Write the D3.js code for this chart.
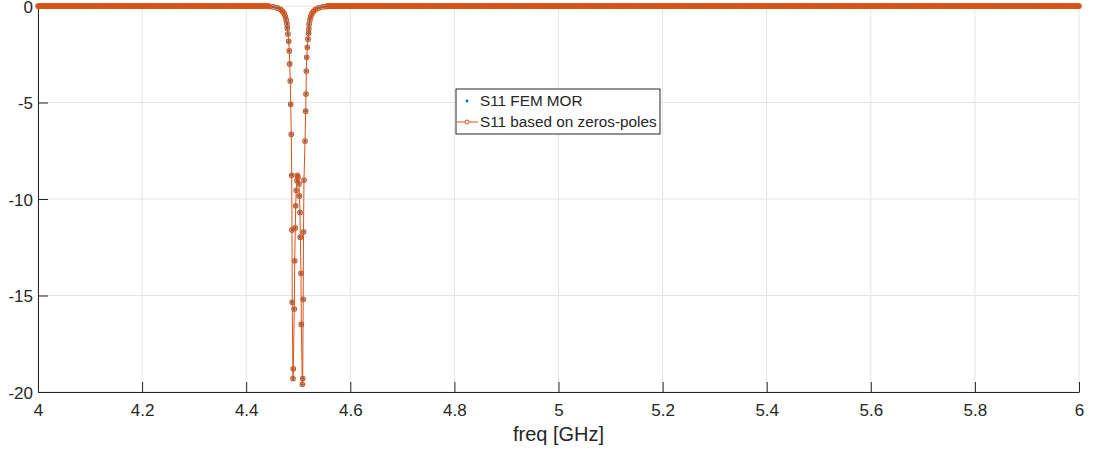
<!DOCTYPE html>
<html lang="en">
<head>
<meta charset="UTF-8">
<title>S11 FEM MOR vs zeros-poles</title>
<script src="https://d3js.org/d3.v7.min.js"></script>
<style>
  body { margin: 0; background: #fff; }
  text { font-family: "Liberation Sans", Arial, sans-serif; fill: #262626; }
</style>
</head>
<body>
<div id="chart"></div>
<script>
// axis ticks
const xTicks = [4, 4.2, 4.4, 4.6, 4.8, 5, 5.2, 5.4, 5.6, 5.8, 6];
const yTicks = [0, -5, -10, -15, -20];

// frequency sweep (GHz) outside the resonance, where S11 sits at 0 dB
const sweepRange = [4, 6];
const sweepStep = 0.002;
const flatLevelDb = 0;

// samples read around the resonance (GHz, dB)
const dipFreq = [4.444, 4.452, 4.460, 4.466, 4.470, 4.473, 4.4752, 4.4768,
  4.4784, 4.4790, 4.4803, 4.4817, 4.4828, 4.4836, 4.4847, 4.4855, 4.4866, 4.4874,
  4.4880, 4.4885, 4.4899, 4.4905, 4.4924, 4.4932, 4.4943, 4.4951, 4.4962, 4.4976,
  4.4982, 4.4995, 4.5013, 4.5022, 4.5034, 4.5040, 4.5053, 4.5059, 4.5078, 4.5086,
  4.5095, 4.5101, 4.5110, 4.5130, 4.5143, 4.5149, 4.5155, 4.5163, 4.5174, 4.5188,
  4.5199, 4.5204, 4.5208, 4.5224, 4.5240, 4.5262, 4.5292, 4.5332, 4.5392, 4.5472, 4.5552];
const dipS11 = [-0.02, -0.05, -0.10, -0.18, -0.28, -0.40, -0.55, -0.72,
  -0.93, -1.15, -1.45, -1.83, -2.33, -3.00, -3.88, -5.09, -6.65, -8.77,
  -11.6, -15.35, -19.30, -18.80, -15.70, -13.20, -11.50, -10.35, -9.55, -9.05,
  -8.77, -8.87, -9.22, -9.84, -10.70, -11.98, -13.85, -16.50, -19.60, -19.30,
  -15.20, -11.70, -9.02, -7.00, -5.45, -4.56, -3.37, -2.66, -2.14, -1.72,
  -1.41, -1.18, -0.95, -0.72, -0.55, -0.40, -0.28, -0.18, -0.10, -0.05, -0.02];

const width = 1097, height = 452;
const margin = {top: 6, right: 18, bottom: 60, left: 38};

const x = d3.scaleLinear().domain([4, 6]).range([margin.left, width - margin.right]);
const y = d3.scaleLinear().domain([-20, 0]).range([height - margin.bottom, margin.top]);

// merge sweep with resonance samples
const lo = dipFreq[0], hi = dipFreq[dipFreq.length - 1];
const data = d3.range(sweepRange[0], sweepRange[1] + sweepStep / 2, sweepStep)
  .filter(f => f < lo - 1e-9 || f > hi + 1e-9)
  .map(f => ({f: f, v: flatLevelDb}))
  .concat(dipFreq.map((f, i) => ({f: f, v: dipS11[i]})))
  .sort((a, b) => a.f - b.f);

const svg = d3.select("#chart").append("svg")
  .attr("width", width).attr("height", height);

const blue = "#0072BD", orange = "#D95319", axisColor = "#262626";

// grid
svg.append("g").selectAll("line").data(xTicks).join("line")
  .attr("x1", d => x(d)).attr("x2", d => x(d))
  .attr("y1", y(0)).attr("y2", y(-20))
  .attr("stroke", "#e5e5e5").attr("stroke-width", 1);
svg.append("g").selectAll("line").data(yTicks).join("line")
  .attr("x1", x(4)).attr("x2", x(6))
  .attr("y1", d => y(d)).attr("y2", d => y(d))
  .attr("stroke", "#e5e5e5").attr("stroke-width", 1);

// axes
const xAxis = svg.append("g")
  .attr("transform", `translate(0,${y(-20)})`)
  .call(d3.axisBottom(x).tickValues(xTicks).tickFormat(d => String(+d.toFixed(1)))
    .tickSize(-10).tickSizeOuter(0).tickPadding(12));
const yAxis = svg.append("g")
  .attr("transform", `translate(${x(4)},0)`)
  .call(d3.axisLeft(y).tickValues(yTicks).tickFormat(d => String(d))
    .tickSize(-10).tickSizeOuter(0).tickPadding(5));
[xAxis, yAxis].forEach(g => {
  g.selectAll("path, line").attr("stroke", axisColor);
  g.selectAll("text").style("font-size", "17px").attr("fill", axisColor);
});
yAxis.selectAll("text").attr("dy", "0.36em");

// S11 FEM MOR (dots)
svg.append("g").selectAll("circle").data(data).join("circle")
  .attr("cx", d => x(d.f)).attr("cy", d => y(d.v))
  .attr("r", 1.4).attr("fill", blue);

// S11 based on zeros-poles (line + open circles)
svg.append("path").datum(data)
  .attr("fill", "none").attr("stroke", orange).attr("stroke-width", 1)
  .attr("d", d3.line().x(d => x(d.f)).y(d => y(d.v)));
svg.append("g").selectAll("circle").data(data).join("circle")
  .attr("cx", d => x(d.f)).attr("cy", d => y(d.v))
  .attr("r", 2.3).attr("fill", "none").attr("stroke", orange).attr("stroke-width", 1.1);

// x label
svg.append("text")
  .attr("x", (x(4) + x(6)) / 2).attr("y", 441)
  .attr("text-anchor", "middle").style("font-size", "20px")
  .text("freq [GHz]");

// legend
const lg = svg.append("g").attr("transform", "translate(456,89)");
lg.append("rect").attr("width", 204).attr("height", 45)
  .attr("fill", "#fff").attr("stroke", axisColor).attr("stroke-width", 1);
lg.append("circle").attr("cx", 11).attr("cy", 12).attr("r", 1.4).attr("fill", blue);
lg.append("line").attr("x1", 1).attr("x2", 22).attr("y1", 33).attr("y2", 33)
  .attr("stroke", orange).attr("stroke-width", 1);
lg.append("circle").attr("cx", 11).attr("cy", 33).attr("r", 2)
  .attr("fill", "#fff").attr("stroke", orange);
lg.append("text").attr("x", 24).attr("y", 17).style("font-size", "15.3px").text("S11 FEM MOR");
lg.append("text").attr("x", 24).attr("y", 38).style("font-size", "15.3px").text("S11 based on zeros-poles");
</script>
</body>
</html>
